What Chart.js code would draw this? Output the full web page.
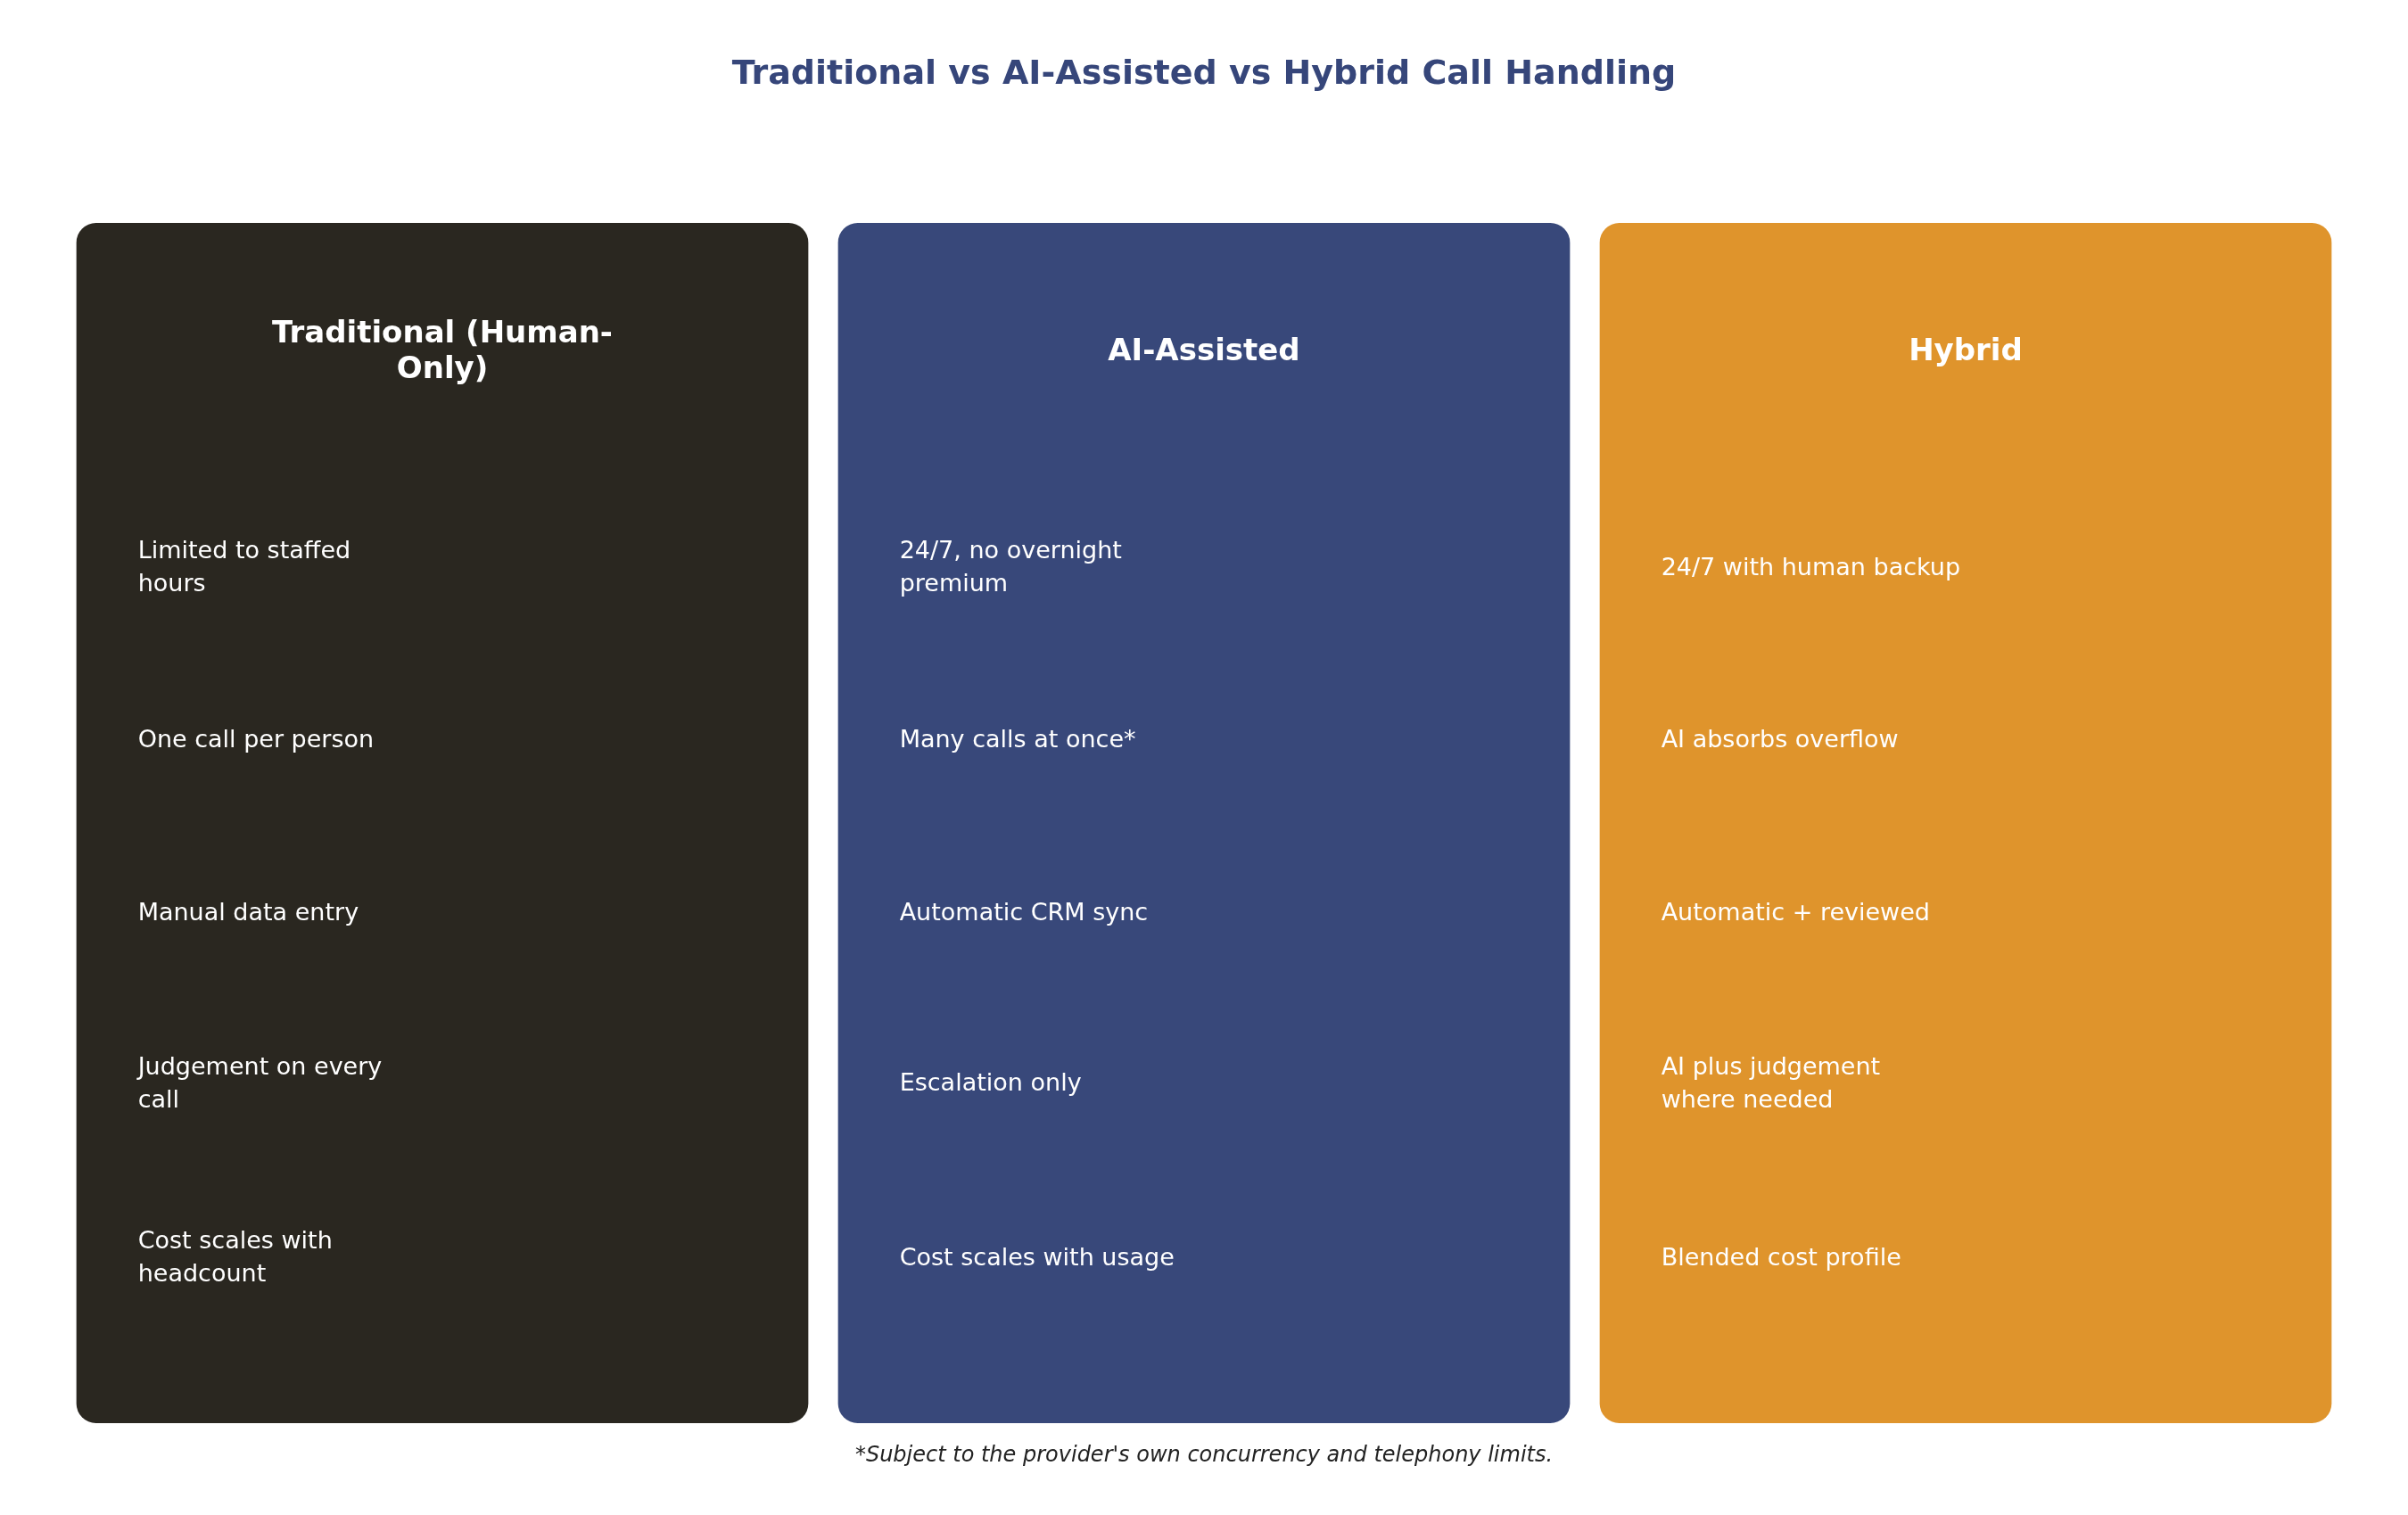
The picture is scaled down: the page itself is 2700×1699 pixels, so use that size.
<!DOCTYPE html>
<html>
<head>
<meta charset="utf-8">
<script src="https://cdn.jsdelivr.net/npm/chart.js@4"></script>
<style>
  body { margin: 0; background: #fff; }
  canvas { display: block; }
</style>
</head>
<body>
<canvas id="chart" width="2700" height="1699"></canvas>
<script>
// data
const columns = ['Traditional (Human-\nOnly)', 'AI-Assisted', 'Hybrid'];
const columnColors = ['#2a2720', '#38487a', '#df942c'];
const traditionalRows = ['Limited to staffed\nhours', 'One call per person', 'Manual data entry', 'Judgement on every\ncall', 'Cost scales with\nheadcount'];
const aiRows = ['24/7, no overnight\npremium', 'Many calls at once*', 'Automatic CRM sync', 'Escalation only', 'Cost scales with usage'];
const hybridRows = ['24/7 with human backup', 'AI absorbs overflow', 'Automatic + reviewed', 'AI plus judgement\nwhere needed', 'Blended cost profile'];
const titleText = 'Traditional vs AI-Assisted vs Hybrid Call Handling';
const footnote = "*Subject to the provider's own concurrency and telephony limits.";

const allRows = [traditionalRows, aiRows, hybridRows];
const headerY = 0.892;
const rowY = [0.712, 0.568, 0.424, 0.282, 0.137];

function drawLines(ctx, text, x, y, lineH) {
    const lines = text.split('\n');
    const start = y - (lines.length - 1) * lineH / 2;
    lines.forEach((l, i) => ctx.fillText(l, x, start + i * lineH));
}

const cardText = {
    id: 'cardText',
    afterDatasetsDraw(chart) {
        const ctx = chart.ctx;
        const xs = chart.scales.x;
        const ys = chart.scales.y;
        const meta = chart.getDatasetMeta(0);
        ctx.save();
        ctx.fillStyle = '#ffffff';
        ctx.textBaseline = 'middle';
        columns.forEach((col, i) => {
            const bar = meta.data[i];
            const left = bar.x - bar.width / 2;
            ctx.textAlign = 'center';
            ctx.font = 'bold 34px "DejaVu Sans"';
            drawLines(ctx, col, xs.getPixelForValue(i), ys.getPixelForValue(headerY), 40);
            ctx.textAlign = 'left';
            ctx.font = '27px "DejaVu Sans"';
            allRows[i].forEach((r, j) => {
                drawLines(ctx, r, left + 69, ys.getPixelForValue(rowY[j]), 37);
            });
        });
        ctx.textAlign = 'center';
        ctx.fillStyle = '#36467a';
        ctx.font = 'bold 38px "DejaVu Sans"';
        ctx.fillText(titleText, chart.width / 2, 84);
        ctx.fillStyle = '#222222';
        ctx.font = 'italic 24px "DejaVu Sans"';
        ctx.fillText(footnote, chart.width / 2, 1633);
        ctx.restore();
    }
};

new Chart(document.getElementById('chart'), {
    type: 'bar',
    data: {
        labels: columns,
        datasets: [{
            data: columns.map(() => [0, 1]),
            backgroundColor: columnColors,
            borderRadius: 22,
            borderSkipped: false,
            barPercentage: 0.961,
            categoryPercentage: 1
        }]
    },
    options: {
        responsive: false,
        devicePixelRatio: 1,
        animation: false,
        layout: { padding: { left: 69, right: 69, top: 250, bottom: 103 } },
        scales: {
            x: { display: false },
            y: { display: false, min: 0, max: 1 }
        },
        plugins: { legend: { display: false }, tooltip: { enabled: false } }
    },
    plugins: [cardText]
});
</script>
</body>
</html>
